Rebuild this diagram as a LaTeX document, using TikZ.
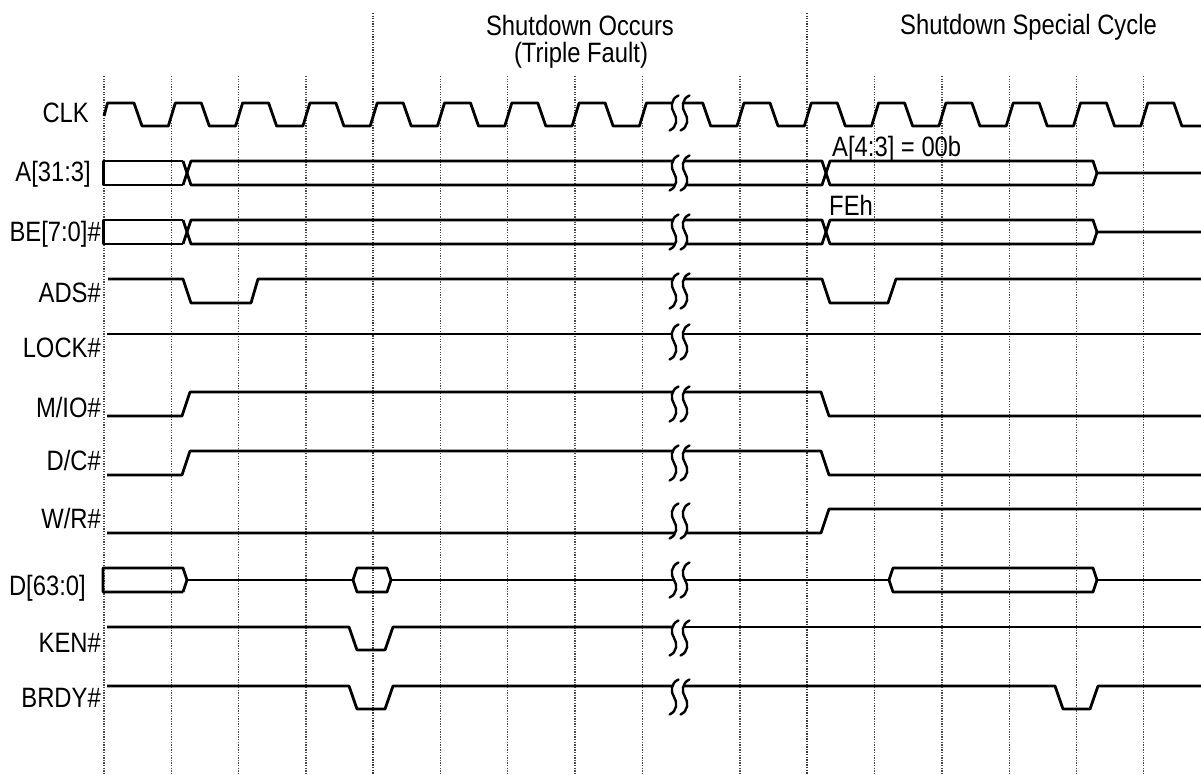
\documentclass[tikz,border=0pt]{standalone}
\usepackage{fontspec}
\setmainfont[FakeStretch=0.85]{Liberation Sans}
\newcommand\brkmark[1]{%
  \fill[white] (678.5,#1-17.5) .. controls (670.5,#1-14) and (670.5,#1-5) .. (674,#1) .. controls (677.5,#1+5) and (677.5,#1+14) .. (669.5,#1+17.5) -- (680.5,#1+17.5) .. controls (688.5,#1+14) and (688.5,#1+5) .. (685,#1) .. controls (681.5,#1-5) and (681.5,#1-14) .. (689.5,#1-17.5) -- cycle;
  \draw[brk] (678.5,#1-17.5) .. controls (670.5,#1-14) and (670.5,#1-5) .. (674,#1) .. controls (677.5,#1+5) and (677.5,#1+14) .. (669.5,#1+17.5);
  \draw[brk] (689.5,#1-17.5) .. controls (681.5,#1-14) and (681.5,#1-5) .. (685,#1) .. controls (688.5,#1+5) and (688.5,#1+14) .. (680.5,#1+17.5);
}
\begin{document}
\begin{tikzpicture}[x=1pt,y=-1pt,
  sig/.style={line width=2.8pt, line join=round, line cap=butt},
  thinsig/.style={line width=1.6pt},
  gridline/.style={gray!60!black, line width=1.3pt, dash pattern=on 1.3pt off 1.3pt},
  mgridline/.style={gray!45!black, line width=2.2pt, dash pattern=on 1.3pt off 1.3pt},
  brk/.style={line width=2.4pt, line cap=round},
  lbl/.style={anchor=base east, inner sep=0pt, font=\fontsize{28}{31}\selectfont},
  ttl/.style={anchor=base, inner sep=0pt, font=\fontsize{28}{31}\selectfont},
  blbl/.style={anchor=base west, inner sep=0pt, font=\fontsize{28}{31}\selectfont},
]
\useasboundingbox (0,0) rectangle (1201,775);
% grid
\foreach \gx in {104,171.3,238.6,305.9,440.5,507.8,575.1,642.4,740,874.6,941.9,1009.2,1076.5,1143.8}
  \draw[gridline] (\gx,76) -- (\gx,775);
\foreach \gx in {373.2,807.3}
  \draw[mgridline] (\gx,13) -- (\gx,775);
% titles
\node[ttl] (t1) at (580,36) {Shutdown Occurs};
\node[ttl] (t2) at (581,63) {(Triple Fault)};
\node[ttl] (t3) at (1028.5,35) {Shutdown Special Cycle};
% labels
\node[lbl] (lclk) at (89,123) {CLK};
\node[lbl] (la) at (91,182) {A[31:3]};
\node[lbl] (lbe) at (101,242) {BE[7:0]\#};
\node[lbl] (lads) at (101,303) {ADS\#};
\node[lbl] (llock) at (101,357) {LOCK\#};
\node[lbl] (lmio) at (101,417) {M/IO\#};
\node[lbl] (ldc) at (101,470) {D/C\#};
\node[lbl] (lwr) at (101,528) {W/R\#};
\node[lbl] (ld) at (86,595) {D[63:0]};
\node[lbl] (lken) at (101,652) {KEN\#};
\node[lbl] (lbrdy) at (101,707) {BRDY\#};
\node[blbl] (a43) at (832,157) {A[4:3] = 00b};
\node[blbl] (feh) at (829,216) {FEh};
% CLK
\draw[sig] (104,116) -- (107.5,103) -- (134,103) -- (142,126)
  \foreach \g in {171.3,238.6,305.9,373.2,440.5,507.8,575.1} { -- (\g-3,126) -- (\g+4,103) -- (\g+30,103) -- (\g+38,126) }
  -- (639.4,126) -- (646.4,103) -- (702.7,103) -- (710.7,126)
  \foreach \g in {740,807.3,874.6,941.9,1009.2,1076.5,1143.8} { -- (\g-3,126) -- (\g+4,103) -- (\g+30,103) -- (\g+38,126) }
  -- (1201,126);
% A[31:3]
\draw[sig] (183,161) -- (103.5,161) -- (103.5,185) -- (183,185);
\draw[sig] (183,161) -- (191,185) -- (822,185) -- (830,161) -- (1093,161) -- (1097,173) -- (1201,173);
\draw[sig] (183,185) -- (191,161) -- (822,161) -- (830,185) -- (1093,185) -- (1097,173);
% BE[7:0]#
\draw[sig] (183,220) -- (103.5,220) -- (103.5,244) -- (183,244);
\draw[sig] (183,220) -- (191,244) -- (822,244) -- (830,220) -- (1093,220) -- (1097,232) -- (1201,232);
\draw[sig] (183,244) -- (191,220) -- (822,220) -- (830,244) -- (1093,244) -- (1097,232);
% ADS#
\draw[sig] (108,279) -- (183,279) -- (191,303) -- (251,303) -- (258,279) -- (822,279) -- (830,303) -- (888,303) -- (896,279) -- (1201,279);
% LOCK#
\draw[sig] (107,334) -- (679,334);
\draw[thinsig] (679,334) -- (1201,334);
% M/IO#
\draw[sig] (107,416) -- (182,416) -- (190,392) -- (821,392) -- (829,416) -- (1201,416);
% D/C#
\draw[sig] (107,475) -- (182,475) -- (190,451) -- (821,451) -- (829,475) -- (1201,475);
% W/R#
\draw[sig] (107,533) -- (821,533) -- (829,509) -- (1201,509);
% D[63:0]
\draw[sig] (183,592) -- (103,592) -- (103,568) -- (183,568) -- (187,580) -- (183,592);
\draw[sig] (187,580) -- (353,580);
\draw[sig] (353,580) -- (357,568) -- (387,568) -- (391,580) -- (387,592) -- (357,592) -- cycle;
\draw[sig] (391,580) -- (889,580);
\draw[sig] (889,580) -- (893,568) -- (1093,568) -- (1097,580) -- (1093,592) -- (893,592) -- cycle;
\draw[sig] (1097,580) -- (1201,580);
% KEN#
\draw[sig] (107,627) -- (349,627) -- (357,650) -- (385,650) -- (393,627) -- (679,627);
\draw[thinsig] (679,627) -- (1201,627);
% BRDY#
\draw[sig] (107,686) -- (349,686) -- (357,709) -- (385,709) -- (393,686) -- (1055,686) -- (1063,709) -- (1090,709) -- (1098,686) -- (1201,686);
% breaks
\foreach \cy in {113,173,232,291,342,404,463,521,580,638,697} { \brkmark{\cy} }
\end{tikzpicture}
\end{document}
